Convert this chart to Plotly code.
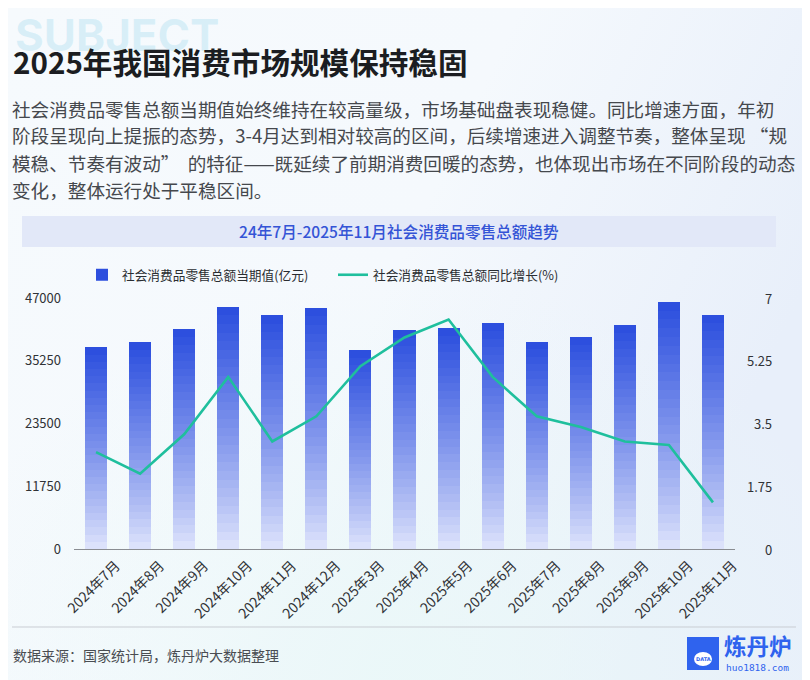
import base64
import plotly.graph_objects as go

# ---------------- data ----------------
categories = ["2024年7月", "2024年8月", "2024年9月", "2024年10月", "2024年11月", "2024年12月",
              "2025年3月", "2025年4月", "2025年5月", "2025年6月", "2025年7月", "2025年8月",
              "2025年9月", "2025年10月", "2025年11月"]
retail_value = [37757, 38726, 41112, 45396, 43763, 45172, 37174, 40940, 41326, 42287,
                38780, 39668, 41971, 46291, 43898]
retail_growth = [2.7, 2.1, 3.2, 4.8, 3.0, 3.7, 5.1, 5.9, 6.4, 4.8, 3.7, 3.4, 3.0, 2.9, 1.3]
left_ticks = [0, 11750, 23500, 35250, 47000]
right_ticks = [0, 1.75, 3.5, 5.25, 7]
right_tick_text = ["0", "1.75", "3.5", "5.25", "7"]
bar_name = "社会消费品零售总额当期值(亿元)"
line_name = "社会消费品零售总额同比增长(%)"

title_text = "2025年我国消费市场规模保持稳固"
body_lines = [
    "社会消费品零售总额当期值始终维持在较高量级，市场基础盘表现稳健。同比增速方面，年初",
    "阶段呈现向上提振的态势，3-4月达到相对较高的区间，后续增速进入调整节奏，整体呈现 “规",
    "模稳、节奏有波动”  的特征——既延续了前期消费回暖的态势，也体现出市场在不同阶段的动态",
    "变化，整体运行处于平稳区间。",
]
subtitle_text = "24年7月-2025年11月社会消费品零售总额趋势"
source_text = "数据来源：国家统计局，炼丹炉大数据整理"

# ---------------- layout geometry (reference pixel coords) ----------------
OFF = 8                      # page body margin of the browser
W, H = 810 - OFF, 680 - OFF
L, R, T, B = 74, 735, 298, 549
FONT = "Noto Sans CJK SC"


def fx(x):
    return (x - L) / (R - L)


def fy(y):
    return (B - y) / (B - T)


def mix(c1, c2, t):
    return "rgb(%d,%d,%d)" % tuple(round(a + (b - a) * t) for a, b in zip(c1, c2))


fig = go.Figure()

# gradient bars as stacked slices (bottom light -> top dark)
N = 28
bottom_c = (226, 231, 252)
top_c = (42, 77, 222)
for k in range(N):
    t = (k + 0.5) / N
    fig.add_trace(go.Bar(
        x=categories,
        y=[v / N for v in retail_value],
        marker=dict(color=mix(bottom_c, top_c, t ** 0.85), line=dict(width=0)),
        name=bar_name,
        legendgroup="bar",
        showlegend=(k == N - 1),
        hoverinfo="skip",
        yaxis="y",
    ))

fig.add_trace(go.Scatter(
    x=categories, y=retail_growth, mode="lines", name=line_name,
    line=dict(color="#1fbf9d", width=2.6), yaxis="y2",
))

# background gradient
svg = f'''<svg xmlns="http://www.w3.org/2000/svg" width="{W}" height="{H}">
<defs>
<linearGradient id="g" x1="0" y1="0" x2="1" y2="0.4">
<stop offset="0" stop-color="#f6fafd"/><stop offset="0.55" stop-color="#f5f9fd"/><stop offset="1" stop-color="#e8effa"/>
</linearGradient>
<radialGradient id="c" cx="0.5" cy="1" r="0.6">
<stop offset="0" stop-color="#eaf8f8" stop-opacity="0.9"/><stop offset="1" stop-color="#eaf8f8" stop-opacity="0"/>
</radialGradient>
</defs>
<rect width="{W}" height="{H}" fill="url(#g)"/>
<rect width="{W}" height="{H}" fill="url(#c)"/>
</svg>'''
bg_src = "data:image/svg+xml;base64," + base64.b64encode(svg.encode()).decode()


def note(text, x, y, size, color, family=FONT, xanchor="left", **kw):
    return dict(text=text, x=fx(x), y=fy(y), xref="paper", yref="paper",
                xanchor=xanchor, yanchor="middle", showarrow=False,
                font=dict(family=family, size=size, color=color, **kw))


annotations = [
    note("<b>SUBJECT</b>", 13, 35, 44, "rgba(140,210,235,0.28)", family="Inter"),
    note("<b>" + title_text + "</b>", 11, 61, 29.6, "#1b1d21"),
]
for i, line in enumerate(body_lines):
    annotations.append(note(line, 10, 108 + 27 * i, 18.6, "#45484d"))
annotations += [
    note(subtitle_text, 399, 231, 15.6, "#3454d6", xanchor="center", weight=500),
    note(source_text, 11, 655, 14, "#4a4d52"),
    note("<b>炼丹炉</b>", 722, 645, 22.5, "#2f63ee"),
    note("huo1818.com", 724, 667.5, 9.5, "#2f63ee", family="DejaVu Sans Mono"),
    note("<b>DATA</b>", 703, 659, 5, "#2f63ee", family="DejaVu Sans", xanchor="center"),
]
# right-axis tick labels, right-aligned, placed on the y2 scale
for v, s in zip(right_ticks, right_tick_text):
    annotations.append(dict(text=s, x=fx(774), y=v, xref="paper", yref="y2",
                            xanchor="right", yanchor="middle", showarrow=False,
                            font=dict(family=FONT, size=13, color="#303236")))

shapes = [
    dict(type="rect", xref="paper", yref="paper", x0=fx(22), x1=fx(776), y0=fy(247), y1=fy(216),
         fillcolor="#e2e8f8", line=dict(width=0), layer="below"),
    dict(type="line", xref="paper", yref="paper", x0=fx(12), x1=fx(796), y0=fy(627), y1=fy(627),
         line=dict(color="#c9cdd3", width=1)),
    dict(type="rect", xref="paper", yref="paper", x0=fx(687), x1=fx(719), y0=fy(670), y1=fy(637),
         fillcolor="#2f63ee", line=dict(width=0)),
    dict(type="circle", xref="paper", yref="paper", x0=fx(694), x1=fx(712), y0=fy(666), y1=fy(652),
         fillcolor="white", line=dict(width=0)),
]

fig.update_layout(
    width=W, height=H,
    margin=dict(l=L - OFF, r=W - (R - OFF), t=T - OFF, b=H - (B - OFF), pad=0),
    paper_bgcolor="#f5f9fc",
    plot_bgcolor="rgba(0,0,0,0)",
    barmode="stack",
    bargap=0.5,
    font=dict(family=FONT, color="#333"),
    showlegend=True,
    legend=dict(orientation="h", x=fx(82), y=fy(275), xanchor="left", yanchor="middle",
                bgcolor="rgba(0,0,0,0)", font=dict(family=FONT, size=12.7, color="#2a2d31"),
                entrywidth=206, entrywidthmode="pixels", traceorder="normal"),
    xaxis=dict(type="category", tickangle=-45, showline=True, linecolor="#8a8d92", linewidth=1,
               showgrid=False, ticks="", tickfont=dict(family=FONT, size=14, color="#303236"),
               ticklabelshift=20, ticklabelstandoff=2,
               automargin=False, fixedrange=True),
    yaxis=dict(range=[0, 47000], tickvals=left_ticks, ticktext=[str(v) for v in left_ticks],
               showgrid=False, zeroline=False, showline=False, ticks="",
               ticklabelstandoff=12, tickfont=dict(family=FONT, size=13, color="#303236"),
               automargin=False),
    yaxis2=dict(range=[0, 7], overlaying="y", side="right", tickvals=right_ticks,
                showticklabels=False, showgrid=False, zeroline=False,
                showline=False, ticks="", automargin=False),
    images=[dict(source=bg_src, xref="paper", yref="paper", x=fx(OFF), y=fy(OFF),
                 sizex=W / (R - L), sizey=H / (B - T), xanchor="left", yanchor="top",
                 sizing="stretch", layer="below")],
    annotations=annotations,
    shapes=shapes,
    hovermode=False,
)

fig.write_html("out.html")
